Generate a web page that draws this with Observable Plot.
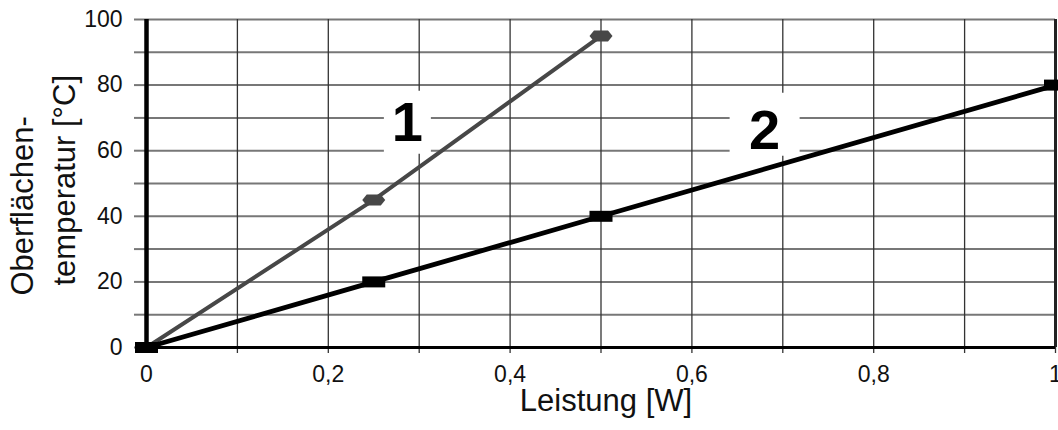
<!DOCTYPE html>
<html>
<head>
<meta charset="utf-8">
<script src="https://cdn.jsdelivr.net/npm/d3@7"></script>
<script src="https://cdn.jsdelivr.net/npm/@observablehq/plot@0.6"></script>
<style>
  html, body { margin: 0; padding: 0; background: white; }
  #chart svg { display: block; }
</style>
</head>
<body>
<div id="chart"></div>
<script>
// --- data ---
const series1X = [0, 0.25, 0.5];
const series1Y = [0, 45, 95];
const series2X = [0, 0.25, 0.5, 1];
const series2Y = [0, 20, 40, 80];
const curveLabels = ["1", "2"];
const curveLabelX = [0.287, 0.68];
const curveLabelY = [68.4, 65.9];
const xTicks = d3.range(0, 11).map(i => i / 10);
const yTicks = d3.range(0, 11).map(i => i * 10);
const xTitle = "Leistung [W]";
const yTitle1 = "Oberflächen-";
const yTitle2 = "temperatur [°C]";

const s1 = series1X.map((x, i) => ({x, y: series1Y[i]}));
const s2 = series2X.map((x, i) => ({x, y: series2Y[i]}));
const labs = curveLabels.map((t, i) => ({t, x: curveLabelX[i], y: curveLabelY[i]}));

// custom symbols
const rectSym = (w, h) => ({draw(ctx) { ctx.rect(-w / 2, -h / 2, w, h); }});
const hexSym = (w, h) => ({draw(ctx) {
  ctx.moveTo(-w / 2, 0);
  ctx.lineTo(-w / 2 + 4.5, -h / 2);
  ctx.lineTo(w / 2 - 4.5, -h / 2);
  ctx.lineTo(w / 2, 0);
  ctx.lineTo(w / 2 - 4.5, h / 2);
  ctx.lineTo(-w / 2 + 4.5, h / 2);
  ctx.closePath();
}});

const fmtX = d => (Math.round(d * 10) % 2 === 0) ? String(d).replace(".", ",") : "";
const fmtY = d => (d % 20 === 0) ? String(d) : "";

const chart = Plot.plot({
  width: 1058,
  height: 430,
  marginLeft: 146,
  marginRight: 3,
  marginTop: 19,
  marginBottom: 83,
  style: {fontFamily: "Liberation Sans, Arial, sans-serif", fontSize: "23px", color: "#111", background: "white", overflow: "visible"},
  x: {domain: [0, 1]},
  y: {domain: [0, 100]},
  marks: [
    Plot.gridY(yTicks, {stroke: "#777", strokeOpacity: 1, strokeWidth: 2}),
    Plot.gridX(xTicks, {stroke: "#333", strokeOpacity: 1, strokeWidth: 1.3}),
    Plot.axisY({ticks: yTicks, tickSize: 12, tickPadding: 12, tickFormat: fmtY, stroke: "#777", strokeWidth: 2, fill: "#111", label: null}),
    Plot.axisX({ticks: xTicks, tickSize: 6, tickPadding: 12, tickFormat: fmtX, stroke: "#333", strokeWidth: 1.3, fill: "#111", label: null}),
    // white boxes behind curve labels
    Plot.dot(labs.filter(d => d.t === "1"), {x: "x", y: "y", dy: -1, symbol: rectSym(47, 63), fill: "white", stroke: "none"}),
    Plot.dot(labs.filter(d => d.t === "2"), {x: "x", y: "y", dy: -7, symbol: rectSym(70, 63), fill: "white", stroke: "none"}),
    // frame lines
    Plot.ruleX([1], {stroke: "#222", strokeWidth: 3}),
    Plot.ruleX([0], {stroke: "#000", strokeWidth: 4.5}),
    Plot.ruleY([0], {stroke: "#000", strokeWidth: 3}),
    // curves
    Plot.line(s1, {x: "x", y: "y", stroke: "#474747", strokeWidth: 4}),
    Plot.dot(s1, {x: "x", y: "y", symbol: hexSym(23, 11), fill: "#474747", stroke: "none"}),
    Plot.line(s2, {x: "x", y: "y", stroke: "#000", strokeWidth: 4.8}),
    Plot.dot(s2, {x: "x", y: "y", symbol: rectSym(23, 11), fill: "#000", stroke: "none"}),
    // curve labels
    Plot.text(labs, {x: "x", y: "y", text: "t", fontSize: 56, fontWeight: "bold", fill: "#000"}),
    // axis titles
    Plot.text([xTitle], {frameAnchor: "bottom", text: d => d, dx: 5, dy: 63, fontSize: 31, fill: "#111"}),
    Plot.text([yTitle1], {frameAnchor: "bottom-left", text: d => d, rotate: -90, textAnchor: "start", dx: -114, dy: -52, fontSize: 31, fill: "#111"}),
    Plot.text([yTitle2], {frameAnchor: "bottom-left", text: d => d, rotate: -90, textAnchor: "start", dx: -72, dy: -62, fontSize: 31, fill: "#111"})
  ]
});
document.getElementById("chart").appendChild(chart);
</script>
</body>
</html>
